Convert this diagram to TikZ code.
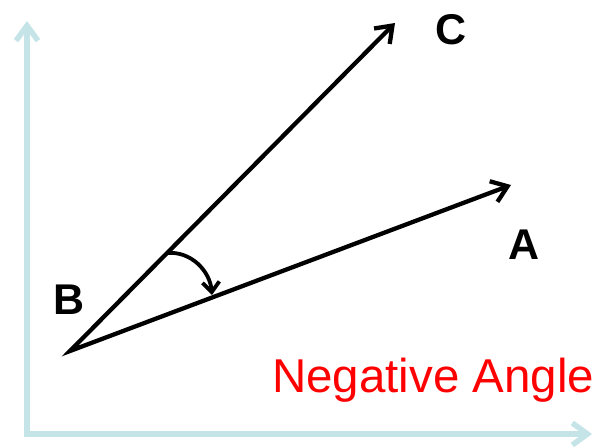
\documentclass[tikz,border=0pt]{standalone}
\usepackage{fontspec}
\setmainfont{Liberation Sans}
\usepackage{tikz}
\usetikzlibrary{arrows.meta}
\definecolor{axiscyan}{RGB}{196,228,232}

\begin{document}
\begin{tikzpicture}[x=1pt,y=1pt,every node/.style={inner sep=0pt},axis/.style={draw=axiscyan,line width=5.5pt,{Straight Barb[length=15pt,width=22pt]}-{Straight Barb[length=15pt,width=22pt]}},ray/.style={line width=4.3pt,{Straight Barb[length=15pt,width=22pt]}-{Straight Barb[length=15pt,width=22pt]}},turn/.style={line width=3.8pt,-{Straight Barb[length=10pt,width=17pt]}},lbl/.style={font=\fontsize{43}{48}\selectfont\bfseries},note/.style={font=\fontsize{47.5}{54}\selectfont,text=red}]
\useasboundingbox (0,0) rectangle (597,447);
\coordinate (origin) at (27,13); \coordinate (ytip) at (27,426); \coordinate (xtip) at (592,13);
\draw[axis] (ytip) -- (origin) -- (xtip);
\coordinate (B) at (70,96); \coordinate (C) at (395,424); \coordinate (A) at (511,262);
\draw[ray] (C) -- (B) -- (A);
\coordinate (arcS) at (167,194); \coordinate (arcE) at (212,152);
\draw[turn] (arcS) to[out=5,in=95] (arcE);
\node[lbl] (labC) at (451,417) {C}; \node[lbl] (labA) at (524,202) {A}; \node[lbl] (labB) at (69,147) {B};
\node[note,anchor=base west] (neg) at (272,54) {Negative Angle};
\end{tikzpicture}
\end{document}
